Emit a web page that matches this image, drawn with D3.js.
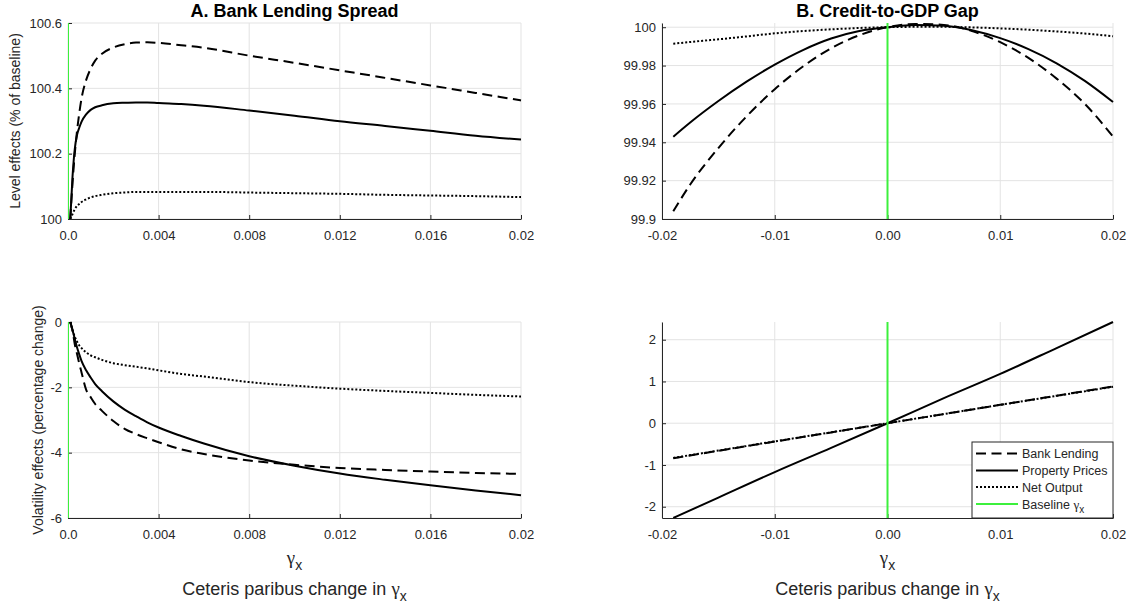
<!DOCTYPE html>
<html>
<head>
<meta charset="utf-8">
<script src="https://cdn.jsdelivr.net/npm/d3@7"></script>
<style>
  html, body { margin: 0; padding: 0; background: #fff; }
  svg { display: block; font-family: "Liberation Sans", Arial, Helvetica, sans-serif; }
</style>
</head>
<body>
<svg id="fig" width="1127" height="609"></svg>
<script>
// ---- Panel A / C: bank lending spread, gamma_x from near zero up to 0.02 ----
const spreadGamma = [0.0001, 0.0002, 0.0003, 0.0004, 0.0005, 0.0006, 0.0008, 0.001, 0.0012, 0.0015,
  0.002, 0.0025, 0.003, 0.0035, 0.004, 0.005, 0.006, 0.008, 0.01, 0.012, 0.014, 0.016, 0.018, 0.02];

const spreadLevelLending = [100.0, 100.11, 100.20, 100.27, 100.325, 100.37, 100.425, 100.46, 100.485, 100.506,
  100.525, 100.535, 100.54, 100.541, 100.539, 100.532, 100.524, 100.50, 100.478, 100.455, 100.432, 100.409, 100.386, 100.363];
const spreadLevelProperty = [100.0, 100.13, 100.215, 100.258, 100.28, 100.298, 100.32, 100.334, 100.342, 100.348,
  100.354, 100.356, 100.357, 100.357, 100.355, 100.352, 100.347, 100.332, 100.316, 100.299, 100.285, 100.27, 100.255, 100.243];
const spreadLevelOutput = [100.0, 100.015, 100.03, 100.04, 100.046, 100.052, 100.06, 100.066, 100.07, 100.074,
  100.079, 100.081, 100.083, 100.083, 100.083, 100.083, 100.083, 100.081, 100.079, 100.077, 100.074, 100.072, 100.07, 100.067];

const spreadVolLending = [0, -0.25, -0.68, -0.98, -1.28, -1.55, -2.07, -2.3, -2.51, -2.72,
  -3.03, -3.27, -3.43, -3.56, -3.68, -3.9, -4.04, -4.24, -4.37, -4.47, -4.53, -4.58, -4.62, -4.65];
const spreadVolProperty = [0, -0.25, -0.52, -0.78, -1.0, -1.2, -1.48, -1.7, -1.9, -2.12,
  -2.43, -2.68, -2.88, -3.07, -3.23, -3.49, -3.72, -4.11, -4.4, -4.64, -4.83, -5.0, -5.16, -5.3];
const spreadVolOutput = [0, -0.25, -0.45, -0.6, -0.72, -0.8, -0.93, -1.02, -1.08, -1.16,
  -1.26, -1.32, -1.37, -1.42, -1.48, -1.59, -1.67, -1.84, -1.95, -2.04, -2.11, -2.17, -2.23, -2.28];

// ---- Panel B: credit-to-GDP gap, level effects ----
const gapGamma = [-0.019, -0.0175, -0.015, -0.0125, -0.01, -0.0075, -0.005, -0.0025, 0,
  0.0025, 0.005, 0.0075, 0.01, 0.0125, 0.015, 0.0175, 0.02];
const gapLevelLending = [99.904, 99.918, 99.937, 99.9535, 99.9677, 99.9795, 99.989, 99.9958, 100.0,
  100.0017, 100.0012, 99.998, 99.9922, 99.984, 99.9732, 99.960, 99.943];
const gapLevelProperty = [99.9429, 99.9503, 99.9615, 99.9716, 99.9805, 99.9881, 99.9941, 99.998, 100.0,
  100.0011, 100.0008, 99.9984, 99.9943, 99.9886, 99.9812, 99.972, 99.961];
const gapLevelOutput = [99.9914, 99.9923, 99.9937, 99.9952, 99.9968, 99.998, 99.9989, 99.9996, 100.0,
  100.0002, 100.0002, 99.9999, 99.9994, 99.9987, 99.9978, 99.9967, 99.9953];

// ---- Panel D: credit-to-GDP gap, volatility effects ----
const gapVolGamma = [-0.019, -0.015, -0.01, -0.005, 0, 0.005, 0.01, 0.015, 0.02];
const gapVolLending = [-0.84, -0.66, -0.44, -0.22, 0, 0.22, 0.44, 0.66, 0.88];
const gapVolProperty = [-2.27, -1.78, -1.17, -0.59, 0, 0.60, 1.18, 1.80, 2.424];
const gapVolOutput = [-0.83, -0.655, -0.435, -0.218, 0, 0.22, 0.44, 0.655, 0.875];

// ---- Ticks ----
const spreadXTicks = [0, 0.004, 0.008, 0.012, 0.016, 0.02];
const spreadXLabels = ["0.0", "0.004", "0.008", "0.012", "0.016", "0.02"];
const gapXTicks = [-0.02, -0.01, 0, 0.01, 0.02];
const gapXLabels = ["-0.02", "-0.01", "0.00", "0.01", "0.02"];
const levelATicks = [100, 100.2, 100.4, 100.6];
const levelALabels = ["100", "100.2", "100.4", "100.6"];
const levelBTicks = [99.9, 99.92, 99.94, 99.96, 99.98, 100];
const levelBLabels = ["99.9", "99.92", "99.94", "99.96", "99.98", "100"];
const volCTicks = [-6, -4, -2, 0];
const volCLabels = ["-6", "-4", "-2", "0"];
const volDTicks = [-2, -1, 0, 1, 2];
const volDLabels = ["-2", "-1", "0", "1", "2"];

const seriesNames = ["Bank Lending", "Property Prices", "Net Output"];
const baselineGamma = 0;

// ---- Styling ----
const INK = "#262626";
const GRID = "#e3e3e3";
const GREEN = "#3cf03c";
const GREEK_FONT = "'Liberation Serif', 'Times New Roman', serif";
const dashFor = { "Bank Lending": "10,5.5", "Property Prices": null, "Net Output": "2,2" };

const svg = d3.select("#fig");
svg.append("rect").attr("width", 1127).attr("height", 609).attr("fill", "#fff");

let clipId = 0;

function drawPanel(cfg) {
  const g = svg.append("g");
  const x = d3.scaleLinear().domain(cfg.xDomain).range([cfg.left, cfg.right]);
  const y = d3.scaleLinear().domain(cfg.yDomain).range([cfg.bottom, cfg.top]);

  // grid
  g.append("g").selectAll("line").data(cfg.xTicks).join("line")
    .attr("x1", d => x(d)).attr("x2", d => x(d))
    .attr("y1", cfg.top).attr("y2", cfg.bottom)
    .attr("stroke", GRID).attr("stroke-width", 1);
  g.append("g").selectAll("line").data(cfg.yTicks).join("line")
    .attr("x1", cfg.left).attr("x2", cfg.right)
    .attr("y1", d => y(d)).attr("y2", d => y(d))
    .attr("stroke", GRID).attr("stroke-width", 1);

  // axes (left and bottom only, ticks pointing inward)
  const xAxis = g.append("g").attr("transform", `translate(0,${cfg.bottom})`)
    .call(d3.axisBottom(x).tickValues(cfg.xTicks).tickFormat((d, i) => cfg.xLabels[i])
      .tickSizeInner(-4).tickSizeOuter(0).tickPadding(12));
  const yAxis = g.append("g").attr("transform", `translate(${cfg.left},0)`)
    .call(d3.axisLeft(y).tickValues(cfg.yTicks).tickFormat((d, i) => cfg.yLabels[i])
      .tickSizeInner(-4).tickSizeOuter(0).tickPadding(6));
  [xAxis, yAxis].forEach(a => {
    a.select(".domain").attr("stroke", INK).attr("stroke-width", 1);
    a.selectAll(".tick line").attr("stroke", INK);
    a.selectAll(".tick text").attr("fill", INK).attr("font-size", 13)
      .attr("font-family", "'Liberation Sans', Arial, sans-serif");
  });

  // clip to plot box
  const id = "clip" + (clipId++);
  svg.append("clipPath").attr("id", id).append("rect")
    .attr("x", cfg.left).attr("y", cfg.top - 1)
    .attr("width", cfg.right - cfg.left + 1).attr("height", cfg.bottom - cfg.top + 1);
  const plot = g.append("g").attr("clip-path", `url(#${id})`);

  const line = d3.line().x(d => x(d[0])).y(d => y(d[1])).curve(d3.curveMonotoneX);
  cfg.series.forEach((vals, k) => {
    const name = seriesNames[k];
    plot.append("path")
      .datum(cfg.xs.map((v, i) => [v, vals[i]]))
      .attr("d", line)
      .attr("fill", "none")
      .attr("stroke", "#000")
      .attr("stroke-width", 2)
      .attr("stroke-dasharray", dashFor[name]);
  });

  // baseline gamma_x marker
  plot.append("line")
    .attr("x1", x(baselineGamma)).attr("x2", x(baselineGamma))
    .attr("y1", cfg.top).attr("y2", cfg.bottom)
    .attr("stroke", GREEN).attr("stroke-width", 2);

  return { x, y, g };
}

// text followed by gamma with subscript x
function gammaLabel(sel, prefix, size, subSize, dy) {
  if (prefix) sel.append("tspan").text(prefix);
  sel.append("tspan").attr("font-family", GREEK_FONT).attr("font-size", size * 1.05).text("\u03B3");
  sel.append("tspan").attr("font-size", subSize).attr("dy", dy).text("x");
}

const boxA = { left: 68, right: 521, top: 23, bottom: 219 };
const boxB = { left: 662, right: 1113, top: 23, bottom: 219 };
const boxC = { left: 68, right: 521, top: 322, bottom: 518 };
const boxD = { left: 662, right: 1113, top: 322, bottom: 518 };

drawPanel({ ...boxA, xDomain: [0, 0.02], yDomain: [100, 100.6],
  xTicks: spreadXTicks, xLabels: spreadXLabels, yTicks: levelATicks, yLabels: levelALabels,
  xs: spreadGamma, series: [spreadLevelLending, spreadLevelProperty, spreadLevelOutput] });

drawPanel({ ...boxB, xDomain: [-0.02, 0.02], yDomain: [99.9, 100.0022],
  xTicks: gapXTicks, xLabels: gapXLabels, yTicks: levelBTicks, yLabels: levelBLabels,
  xs: gapGamma, series: [gapLevelLending, gapLevelProperty, gapLevelOutput] });

drawPanel({ ...boxC, xDomain: [0, 0.02], yDomain: [-6, 0],
  xTicks: spreadXTicks, xLabels: spreadXLabels, yTicks: volCTicks, yLabels: volCLabels,
  xs: spreadGamma, series: [spreadVolLending, spreadVolProperty, spreadVolOutput] });

drawPanel({ ...boxD, xDomain: [-0.02, 0.02], yDomain: [-2.27, 2.424],
  xTicks: gapXTicks, xLabels: gapXLabels, yTicks: volDTicks, yLabels: volDLabels,
  xs: gapVolGamma, series: [gapVolLending, gapVolProperty, gapVolOutput] });

// titles
svg.append("text").attr("x", (boxA.left + boxA.right) / 2).attr("y", 17)
  .attr("text-anchor", "middle").attr("font-weight", "bold").attr("font-size", 18).attr("fill", "#000")
  .text("A. Bank Lending Spread");
svg.append("text").attr("x", (boxB.left + boxB.right) / 2).attr("y", 17)
  .attr("text-anchor", "middle").attr("font-weight", "bold").attr("font-size", 18).attr("fill", "#000")
  .text("B. Credit-to-GDP Gap");

// y-axis labels
svg.append("text").attr("transform", `translate(15,${(boxA.top + boxA.bottom) / 2}) rotate(-90)`)
  .attr("text-anchor", "middle").attr("dominant-baseline", "central")
  .attr("font-size", 14).attr("fill", INK).text("Level effects (% of baseline)");
svg.append("text").attr("transform", `translate(38,${(boxC.top + boxC.bottom) / 2}) rotate(-90)`)
  .attr("text-anchor", "middle").attr("dominant-baseline", "central")
  .attr("font-size", 14).attr("fill", INK).text("Volatility effects (percentage change)");

// x-axis labels under the lower panels
[boxC, boxD].forEach(b => {
  const cx = (b.left + b.right) / 2;
  const t1 = svg.append("text").attr("x", cx).attr("y", 564)
    .attr("text-anchor", "middle").attr("font-size", 18).attr("fill", INK);
  gammaLabel(t1, "", 18, 14, 6);
  const t2 = svg.append("text").attr("x", cx).attr("y", 595)
    .attr("text-anchor", "middle").attr("font-size", 18).attr("fill", INK);
  gammaLabel(t2, "Ceteris paribus change in ", 18, 14, 6);
});

// legend in panel D
const leg = svg.append("g");
const legBox = { left: 972, right: 1113, top: 442, bottom: 518 };
leg.append("rect").attr("x", legBox.left).attr("y", legBox.top)
  .attr("width", legBox.right - legBox.left).attr("height", legBox.bottom - legBox.top)
  .attr("fill", "#fff").attr("stroke", INK).attr("stroke-width", 1);
const legendItems = [
  { name: "Bank Lending", color: "#000", dash: dashFor["Bank Lending"] },
  { name: "Property Prices", color: "#000", dash: null },
  { name: "Net Output", color: "#000", dash: dashFor["Net Output"] },
  { name: "Baseline ", color: GREEN, dash: null, gamma: true }
];
const legendRows = [453.5, 470.5, 487, 504];
legendItems.forEach((it, i) => {
  const yy = legendRows[i];
  leg.append("line").attr("x1", 976).attr("x2", 1018).attr("y1", yy).attr("y2", yy)
    .attr("stroke", it.color).attr("stroke-width", 2).attr("stroke-dasharray", it.dash);
  const t = leg.append("text").attr("x", 1022).attr("y", yy + 4.5)
    .attr("font-size", 12.5).attr("fill", INK);
  if (it.gamma) gammaLabel(t, it.name, 12.5, 10, 4);
  else t.text(it.name);
});
</script>
</body>
</html>
